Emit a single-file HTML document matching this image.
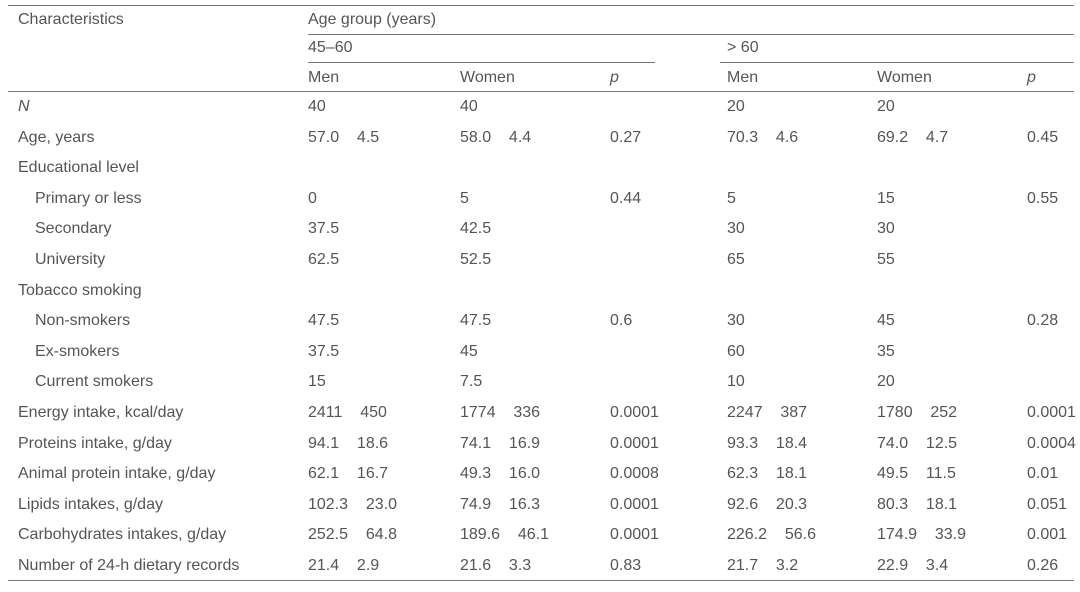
<!DOCTYPE html>
<html><head><meta charset="utf-8"><style>
body{margin:0;width:1080px;height:592px;background:#fff;position:relative;overflow:hidden;font-family:"Liberation Sans",sans-serif;font-size:16px;color:#555}
.t{position:absolute;white-space:pre;line-height:18px}
.l{position:absolute;height:1px;background:#777}
</style></head><body>
<div class="l" style="left:8px;top:5px;width:1066px"></div>
<div class="l" style="left:308px;top:34px;width:766px"></div>
<div class="l" style="left:308px;top:62px;width:347px"></div>
<div class="l" style="left:720px;top:62px;width:354px"></div>
<div class="l" style="left:8px;top:91px;width:1066px"></div>
<div class="l" style="left:8px;top:580px;width:1066px"></div>
<div class="t" style="left:18px;top:11px">Characteristics</div>
<div class="t" style="left:308px;top:11px">Age group (years)</div>
<div class="t" style="left:308px;top:39px">45–60</div>
<div class="t" style="left:727px;top:39px">&gt; 60</div>
<div class="t" style="left:308px;top:69px">Men</div>
<div class="t" style="left:460px;top:69px">Women</div>
<div class="t" style="left:610px;top:69px;font-style:italic">p</div>
<div class="t" style="left:727px;top:69px">Men</div>
<div class="t" style="left:877px;top:69px">Women</div>
<div class="t" style="left:1027px;top:69px;font-style:italic">p</div>
<div id="rows"></div>
<script>
var R=[["<i>N</i>",0,"40","40","","20","20",""],
["Age, years",0,"57.0    4.5","58.0    4.4","0.27","70.3    4.6","69.2    4.7","0.45"],
["Educational level",0,"","","","","",""],
["Primary or less",1,"0","5","0.44","5","15","0.55"],
["Secondary",1,"37.5","42.5","","30","30",""],
["University",1,"62.5","52.5","","65","55",""],
["Tobacco smoking",0,"","","","","",""],
["Non-smokers",1,"47.5","47.5","0.6","30","45","0.28"],
["Ex-smokers",1,"37.5","45","","60","35",""],
["Current smokers",1,"15","7.5","","10","20",""],
["Energy intake, kcal/day",0,"2411    450","1774    336","0.0001","2247    387","1780    252","0.0001"],
["Proteins intake, g/day",0,"94.1    18.6","74.1    16.9","0.0001","93.3    18.4","74.0    12.5","0.0004"],
["Animal protein intake, g/day",0,"62.1    16.7","49.3    16.0","0.0008","62.3    18.1","49.5    11.5","0.01"],
["Lipids intakes, g/day",0,"102.3    23.0","74.9    16.3","0.0001","92.6    20.3","80.3    18.1","0.051"],
["Carbohydrates intakes, g/day",0,"252.5    64.8","189.6    46.1","0.0001","226.2    56.6","174.9    33.9","0.001"],
["Number of 24-h dietary records",0,"21.4    2.9","21.6    3.3","0.83","21.7    3.2","22.9    3.4","0.26"]];
var xs=[308,460,610,727,877,1027],h="";
R.forEach(function(r,i){var y=98+i*30.6;
h+='<div class="t" style="left:'+(r[1]?35:18)+'px;top:'+y+'px">'+r[0]+'</div>';
for(var j=0;j<6;j++)if(r[j+2])h+='<div class="t" style="left:'+xs[j]+'px;top:'+y+'px">'+r[j+2]+'</div>';});
document.getElementById('rows').innerHTML=h;
</script>
</body></html>
